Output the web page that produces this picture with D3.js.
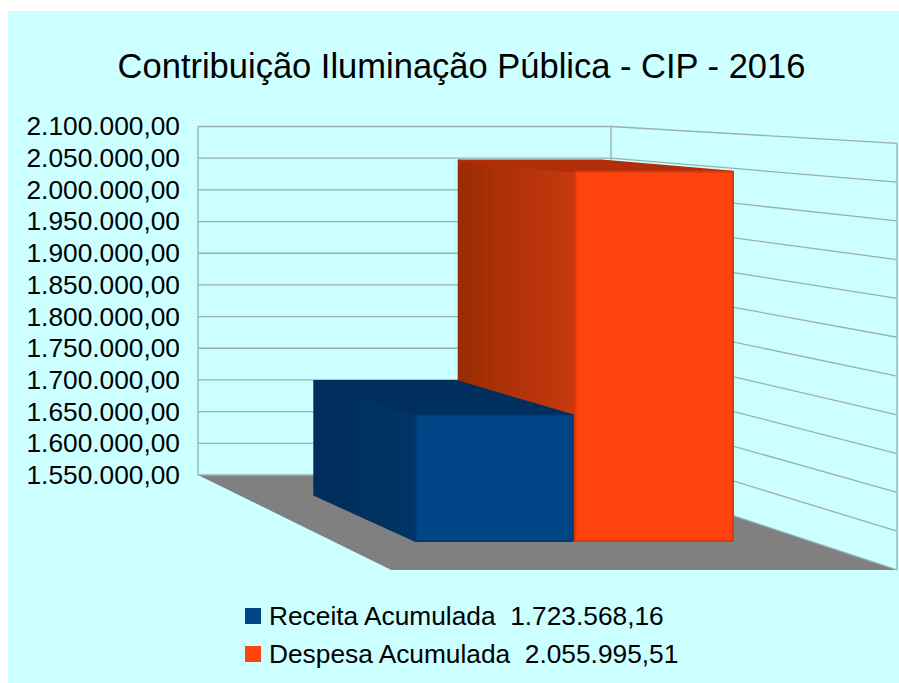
<!DOCTYPE html>
<html><head><meta charset="utf-8">
<script src="https://cdn.jsdelivr.net/npm/d3@7"></script>
<style>html,body{margin:0;padding:0;background:#fff}svg{display:block}text{font-family:"Liberation Sans",Arial,sans-serif;fill:#000}</style>
</head><body><svg id="c" width="899" height="683"></svg>
<script>
const titleText = "Contribuição Iluminação Pública - CIP - 2016";
const seriesNames = ["Receita Acumulada", "Despesa Acumulada"];
const seriesValues = [1723568.16, 2055995.51];
const seriesColors = ["#004586", "#ff420e"];
const sideDark = ["#002d5b", "#9c2c04"];
const sideLight = ["#003565", "#c6380e"];
const topColors = ["#002f5e", "#b02e08"];
const tickValues = d3.range(1550000, 2100001, 50000);

const svg = d3.select("#c");
const loc = d3.formatLocale({decimal:",", thousands:".", grouping:[3], currency:["",""]});
const fmt = loc.format(",.2f");

const y = d3.scaleLinear().domain([1550000, 2100000]).range([475, 126.5]);
const xWall = d3.scaleLinear().domain([0, 1]).range([198, 611]);
const xBar = d3.scaleBand().domain(seriesNames).range([270.3, 544.6]);
const depth = d3.scaleLinear().domain([0, 1]).range([1, 1.2244]);
const V = [-663.5, 51.7];
const proj = (px, py, d) => { const s = depth(d); return [V[0] + s * (px - V[0]), V[1] + s * (py - V[1])]; };
const poly = pts => pts.map(p => p.map(v => v.toFixed(2)).join(",")).join(" ");
const barBack = 0.21, barFront = 0.695, barGap = 1.5, topInset = 1.2;

svg.append("rect").attr("x", 8).attr("y", 11).attr("width", 891).attr("height", 672).attr("fill", "#ccffff");

const gridCol = "#9ab0b0";
const x0 = xWall(0), x1 = xWall(1), yb = y.range()[0], yt = y.range()[1];
svg.append("polygon").attr("fill", "#808080")
  .attr("points", poly([proj(x0,yb,0), proj(x1,yb,0), proj(x1,yb,1), proj(x0,yb,1)]));

const g = svg.append("g").attr("fill", "none").attr("stroke", gridCol).attr("stroke-width", 1.3);
g.selectAll("line.b").data(tickValues).join("line").attr("class","b")
  .attr("x1", x0).attr("x2", x1).attr("y1", d => y(d)).attr("y2", d => y(d));
g.selectAll("line.r").data(tickValues).join("line").attr("class","r")
  .attr("x1", x1).attr("y1", d => y(d))
  .attr("x2", d => proj(x1, y(d), 1)[0]).attr("y2", d => proj(x1, y(d), 1)[1]);
g.append("line").attr("x1", x0).attr("x2", x0).attr("y1", yt).attr("y2", yb);
g.append("line").attr("x1", x1).attr("x2", x1).attr("y1", yt).attr("y2", yb);
const rt = proj(x1, yt, 1), rb = proj(x1, yb, 1);
g.append("line").attr("x1", rt[0]).attr("x2", rb[0]).attr("y1", rt[1]).attr("y2", rb[1]);

const defs = svg.append("defs");
[1, 0].forEach(i => {
  const name = seriesNames[i], v = seriesValues[i];
  const l = xBar(name) + (i ? barGap / 2 : 0), r = xBar(name) + xBar.bandwidth() - (i ? 0 : barGap), t = y(v) + topInset, b = yb;
  const lf = proj(l, t, barFront), lb = proj(l, t, barBack);
  const rf = proj(r, t, barFront), rB = proj(r, t, barBack);
  const lfb = proj(l, b, barFront), lbb = proj(l, b, barBack), rfb = proj(r, b, barFront);
  const n = 14, ip = d3.interpolateRgb(sideDark[i], sideLight[i]);
  const grad = defs.append("linearGradient").attr("id", "side" + i).attr("gradientUnits", "userSpaceOnUse")
    .attr("x1", lb[0]).attr("x2", lf[0]).attr("y1", 0).attr("y2", 0);
  d3.range(n).forEach(k => {
    grad.append("stop").attr("offset", k / n).attr("stop-color", ip(k / (n - 1)));
    grad.append("stop").attr("offset", (k + 1) / n).attr("stop-color", ip(k / (n - 1)));
  });
  const bar = svg.append("g").attr("stroke-linejoin", "round").attr("stroke-width", 2);
  bar.append("polygon").attr("points", poly([lb, lf, lfb, lbb])).attr("fill", `url(#side${i})`).attr("stroke", `url(#side${i})`);
  bar.append("polygon").attr("points", poly([lb, rB, rf, lf])).attr("fill", topColors[i]).attr("stroke", topColors[i]);
  bar.append("polygon").attr("points", poly([lf, rf, rfb, lfb])).attr("fill", seriesColors[i])
    .attr("stroke", d3.color(seriesColors[i]).darker(0.4));
});

const axis = d3.axisLeft(y).tickValues(tickValues).tickFormat(fmt).tickSize(0).tickPadding(0);
const ag = svg.append("g").attr("transform", "translate(180,0)").call(axis);
ag.select(".domain").remove();
ag.selectAll("text").style("font-family", '"Liberation Sans"').style("font-size", "26.3px").attr("fill", "#000");

svg.append("text").text(titleText).attr("x", 461.5).attr("y", 78).attr("text-anchor", "middle").style("font-size", "34.5px");

const lg = svg.selectAll("g.lg").data(seriesNames).join("g").attr("class", "lg")
  .attr("transform", (d, i) => `translate(245,${608 + i * 38})`);
lg.append("rect").attr("width", 16).attr("height", 16).attr("fill", (d, i) => seriesColors[i]);
lg.append("text").attr("x", 24).attr("y", 17).style("font-size", "26.3px").style("white-space", "pre").attr("xml:space", "preserve")
  .text((d, i) => `${d}  ${fmt(seriesValues[i])}`);
</script></body></html>
